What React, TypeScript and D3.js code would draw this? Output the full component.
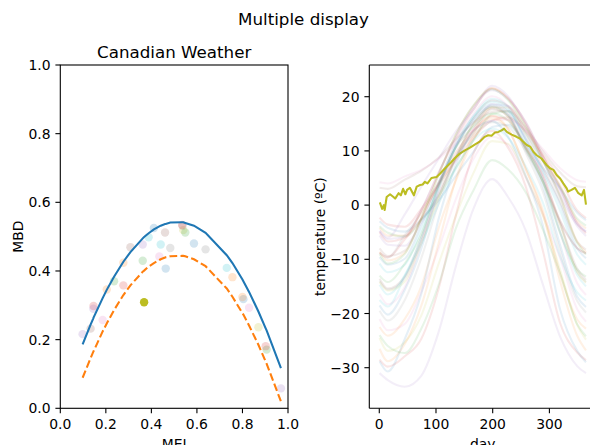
import React from "react";
import * as d3 from "d3";

// ---------------- DATA ----------------
const stations = [
  "St. Johns", "Halifax", "Sydney", "Yarmouth", "Charlottetown", "Fredericton",
  "Scheffervll", "Arvida", "Bagottville", "Quebec", "Sherbrooke", "Montreal",
  "Ottawa", "Toronto", "London", "Thunder Bay", "Winnipeg", "The Pas",
  "Churchill", "Regina", "Pr. Albert", "Uranium Cty", "Edmonton", "Calgary",
  "Kamloops", "Vancouver", "Victoria", "Pr. George", "Pr. Rupert", "Whitehorse",
  "Dawson", "Yellowknife", "Iqaluit", "Inuvik", "Resolute",
];

// days at which each station's temperature is sampled (start, mid-months, end)
const curveDays = [0.5, 15, 45, 74, 105, 135, 166, 199, 227, 258, 288, 319, 349, 364.5];

const stationTemps: number[][] = [
  [-3.0, -4.2, -4.9, -2.6, 0.9, 5.4, 9.8, 14.4, 14.8, 11.3, 6.9, 3.1, -1.4, -2.8],
  [-4.2, -5.6, -5.6, -1.4, 3.6, 8.8, 13.9, 18.0, 18.0, 14.0, 8.9, 3.6, -2.9, -4.3],
  [-3.9, -5.1, -5.8, -2.8, 1.7, 6.9, 12.0, 16.8, 17.3, 13.3, 8.2, 3.4, -2.5, -3.8],
  [-2.3, -3.6, -4.0, -0.7, 3.9, 8.3, 12.4, 15.6, 16.2, 13.6, 9.4, 4.8, -1.0, -2.4],
  [-5.6, -7.3, -7.5, -3.2, 2.0, 8.3, 14.1, 18.6, 18.3, 13.8, 8.2, 2.5, -3.9, -5.7],
  [-8.0, -9.4, -8.4, -2.6, 4.3, 10.7, 16.0, 19.3, 18.3, 13.1, 7.0, 0.6, -6.8, -8.2],
  [-21.0, -23.1, -21.9, -16.0, -7.9, 1.1, 8.5, 12.6, 11.1, 5.1, -1.6, -9.8, -19.2, -21.5],
  [-14.0, -15.6, -13.5, -6.6, 1.5, 8.8, 14.9, 17.9, 16.3, 10.7, 4.4, -3.4, -12.3, -14.2],
  [-14.2, -15.8, -14.1, -7.1, 1.4, 8.9, 14.9, 18.1, 16.3, 10.4, 4.4, -3.7, -12.4, -14.3],
  [-10.8, -12.4, -11.0, -4.6, 3.3, 10.8, 16.3, 19.1, 17.6, 12.4, 6.1, -1.0, -9.1, -11.0],
  [-9.6, -11.0, -9.9, -3.7, 3.9, 10.7, 15.9, 18.6, 17.3, 12.2, 6.5, 0.1, -8.0, -9.8],
  [-8.6, -10.2, -8.8, -2.4, 5.7, 13.0, 18.3, 21.6, 19.6, 14.8, 8.6, 1.7, -6.7, -8.7],
  [-9.0, -10.8, -9.0, -2.5, 5.7, 13.0, 18.4, 21.4, 19.4, 14.5, 8.3, 1.5, -7.0, -9.1],
  [-5.0, -6.7, -6.0, -1.0, 6.0, 12.3, 17.6, 21.5, 19.8, 15.3, 9.1, 3.2, -3.4, -5.2],
  [-4.8, -6.3, -5.7, -0.9, 6.1, 12.6, 18.1, 21.2, 19.6, 15.4, 9.2, 2.9, -3.3, -4.9],
  [-13.6, -15.4, -13.2, -6.0, 2.3, 8.7, 13.4, 17.7, 16.6, 11.0, 5.2, -3.3, -11.7, -13.8],
  [-16.4, -18.3, -15.1, -7.0, 3.7, 11.4, 16.8, 20.1, 18.2, 12.2, 5.2, -5.0, -14.4, -16.6],
  [-19.5, -21.3, -17.5, -9.8, 0.5, 8.7, 15.1, 18.3, 16.9, 9.7, 2.6, -8.5, -17.7, -19.8],
  [-24.5, -26.9, -25.3, -20.4, -10.7, -2.0, 5.9, 11.8, 11.3, 5.3, -1.8, -12.0, -22.1, -24.8],
  [-14.7, -16.5, -12.9, -6.0, 4.1, 11.4, 16.4, 19.6, 18.1, 11.6, 4.8, -5.0, -12.9, -15.0],
  [-18.5, -20.2, -15.6, -8.1, 3.1, 10.9, 15.5, 18.2, 16.6, 10.4, 3.6, -7.4, -16.9, -18.8],
  [-22.5, -24.1, -21.0, -15.0, -4.1, 4.5, 12.1, 16.0, 14.0, 6.8, -0.8, -12.7, -21.1, -22.8],
  [-13.0, -14.2, -10.8, -5.4, 3.7, 10.6, 14.5, 16.9, 15.6, 10.6, 4.5, -5.2, -11.9, -13.2],
  [-8.8, -9.6, -6.3, -2.5, 4.1, 9.7, 13.7, 16.4, 15.7, 10.6, 5.7, -3.0, -7.9, -8.9],
  [-4.7, -6.0, -1.7, 3.4, 8.6, 13.6, 17.6, 22.0, 20.1, 14.9, 8.4, 1.6, -3.6, -4.9],
  [3.2, 3.0, 4.7, 6.3, 8.8, 12.1, 15.2, 17.2, 17.4, 14.3, 10.0, 6.0, 3.5, 3.3],
  [4.2, 4.0, 5.3, 6.5, 8.6, 11.3, 13.9, 15.6, 15.8, 13.8, 10.4, 6.8, 4.6, 4.3],
  [-8.8, -9.7, -5.5, -1.5, 4.3, 9.1, 12.9, 15.3, 14.5, 10.0, 4.5, -2.9, -8.0, -8.9],
  [0.5, 0.8, 2.2, 3.4, 5.4, 8.3, 10.9, 12.8, 13.3, 11.2, 7.9, 3.7, 1.6, 0.1],
  [-17.5, -18.7, -13.1, -7.2, 0.3, 6.7, 11.9, 14.1, 12.5, 7.2, 0.6, -9.5, -16.1, -17.6],
  [-28.8, -30.7, -24.7, -16.4, -2.4, 7.4, 13.6, 15.5, 12.6, 5.5, -3.6, -19.3, -26.9, -29.0],
  [-26.5, -28.8, -25.6, -18.6, -6.9, 4.8, 13.0, 16.5, 14.1, 6.7, -1.4, -14.1, -24.1, -26.8],
  [-24.0, -26.0, -27.3, -22.8, -14.6, -4.3, 2.7, 8.3, 6.6, 2.4, -4.4, -12.7, -22.0, -24.2],
  [-28.5, -29.8, -27.9, -24.7, -15.3, -1.9, 9.5, 13.7, 10.6, 3.5, -8.2, -21.8, -27.2, -28.6],
  [-31.0, -32.3, -33.5, -31.5, -23.3, -11.3, -0.7, 4.8, 1.5, -4.6, -14.5, -24.3, -29.7, -31.0],
];

// highlighted station (Pr. Rupert), read more finely from the picture
const highlighted = 28;
const rupertDays = [
  1, 5, 8, 9.5, 13, 19, 25, 28, 34, 38, 42, 46, 49, 54, 61, 66, 72, 76.5, 80.6, 85,
  92, 101, 107, 116, 125, 133.5, 142, 151, 160, 169, 177, 186, 192, 198, 204, 210,
  216, 220, 225, 233.5, 242, 248, 254, 260, 266, 272, 277.6, 286, 295, 301, 307,
  313, 319, 324.5, 330.5, 333, 339, 345, 351, 357, 361, 364.5,
];
const rupertTemps = [
  0.5, -0.7, 0.0, -0.9, 1.5, 2.0, 1.5, 1.2, 2.2, 1.8, 3.0, 2.0, 2.8, 3.2, 1.8, 3.4,
  3.7, 3.8, 4.3, 4.0, 5.0, 5.2, 5.8, 6.8, 7.7, 8.7, 9.5, 10.1, 10.6, 11.2, 11.7,
  12.6, 12.9, 12.8, 13.4, 13.5, 13.8, 14.1, 13.5, 13.0, 12.6, 12.3, 11.7, 11.1,
  10.8, 9.8, 9.2, 8.6, 7.4, 6.8, 6.5, 5.5, 4.9, 4.0, 3.1, 2.5, 2.8, 3.2, 2.2, 1.8,
  2.8, 0.1,
];

// outliergram: MEI and MBD per station (same order as stations)
const meiValues = [
  0.463, 0.204, 0.236, 0.277, 0.362, 0.308, 0.829, 0.483, 0.540, 0.388, 0.411, 0.277,
  0.362, 0.146, 0.145, 0.460, 0.435, 0.537, 0.870, 0.441, 0.587, 0.756, 0.549, 0.535,
  0.098, 0.133, 0.186, 0.638, 0.368, 0.731, 0.804, 0.800, 0.906, 0.902, 0.969,
];
const mbdValues = [
  0.407, 0.346, 0.370, 0.358, 0.477, 0.469, 0.293, 0.467, 0.519, 0.498, 0.525, 0.424,
  0.430, 0.298, 0.290, 0.512, 0.442, 0.532, 0.236, 0.477, 0.480, 0.382, 0.512, 0.534,
  0.216, 0.232, 0.257, 0.463, 0.309, 0.409, 0.318, 0.324, 0.171, 0.181, 0.058,
];

// parabola (solid) and shifted parabola (dashed), at sorted MEI values
const parabolaMei = [
  0.098, 0.133, 0.145, 0.146, 0.186, 0.204, 0.236, 0.277, 0.277, 0.308, 0.362, 0.362,
  0.368, 0.388, 0.411, 0.435, 0.441, 0.460, 0.463, 0.483, 0.535, 0.537, 0.540, 0.549,
  0.587, 0.638, 0.731, 0.756, 0.800, 0.804, 0.829, 0.870, 0.902, 0.906, 0.969,
];
const parabolaMbd = [
  0.186, 0.244, 0.262, 0.264, 0.321, 0.345, 0.383, 0.427, 0.427, 0.455, 0.495, 0.495,
  0.499, 0.510, 0.521, 0.530, 0.532, 0.537, 0.537, 0.541, 0.542, 0.542, 0.542, 0.540,
  0.532, 0.511, 0.446, 0.423, 0.375, 0.370, 0.339, 0.282, 0.233, 0.227, 0.117,
];
const shiftedMbd = [
  0.089, 0.146, 0.165, 0.166, 0.224, 0.247, 0.286, 0.330, 0.330, 0.358, 0.398, 0.398,
  0.401, 0.413, 0.423, 0.432, 0.434, 0.439, 0.440, 0.443, 0.444, 0.444, 0.444, 0.443,
  0.434, 0.414, 0.349, 0.325, 0.277, 0.273, 0.241, 0.185, 0.136, 0.130, 0.020,
];

const unitTicks = [0, 0.2, 0.4, 0.6, 0.8, 1.0];
const dayTicks = [0, 100, 200, 300];
const tempTicks = [-30, -20, -10, 0, 10, 20];

const palette = d3.schemeCategory10;

// ---------------- LAYOUT ----------------
const W = 590;
const H = 445;
const TOP = 65;
const BOTTOM = 408.3;
const L = { x0: 60.3, x1: 288 };
const R = { x0: 369.3, x1: 596.3 };
const FONT = "'DejaVu Sans', sans-serif";
const TICK = 4.9;
const PAD = 4.9;
const minus = (s: string) => s.replace("-", "\u2212");

export default function App() {
  const xL = d3.scaleLinear().domain([0, 1]).range([L.x0, L.x1]);
  const yL = d3.scaleLinear().domain([0, 1]).range([BOTTOM, TOP]);
  const xR = d3.scaleLinear().domain([-17.6, 382.7]).range([R.x0, R.x1]);
  const yR = d3.scaleLinear().domain([-37.49, 25.85]).range([BOTTOM, TOP]);

  const lineL = d3.line<[number, number]>().x((d) => xL(d[0])).y((d) => yL(d[1]));
  const lineR = d3
    .line<[number, number]>()
    .x((d) => xR(d[0]))
    .y((d) => yR(d[1]))
    .curve(d3.curveMonotoneX);
  const lineRaw = d3.line<[number, number]>().x((d) => xR(d[0])).y((d) => yR(d[1]));

  const solidPts = parabolaMei.map((m, i) => [m, parabolaMbd[i]] as [number, number]);
  const dashPts = parabolaMei.map((m, i) => [m, shiftedMbd[i]] as [number, number]);

  const fmt = d3.format(".1f");

  return (
    <svg
      width={W}
      height={H}
      style={{ position: "absolute", left: 0, top: 0, background: "#fff" }}
      fontFamily={FONT}
    >
      <rect x={0} y={0} width={W} height={H} fill="#fff" />
      <defs>
        <clipPath id="clipL">
          <rect x={L.x0} y={TOP} width={L.x1 - L.x0} height={BOTTOM - TOP} />
        </clipPath>
        <clipPath id="clipR">
          <rect x={R.x0} y={TOP} width={R.x1 - R.x0} height={BOTTOM - TOP} />
        </clipPath>
      </defs>

      <text x={303.5} y={25} fontSize={16.7} textAnchor="middle" fill="#000">
        Multiple display
      </text>

      {/* ---------- Left: outliergram ---------- */}
      <text x={(L.x0 + L.x1) / 2} y={58} fontSize={16.7} textAnchor="middle" fill="#000">
        Canadian Weather
      </text>
      <g clipPath="url(#clipL)">
        {meiValues.map((m, i) =>
          i === highlighted ? null : (
            <circle
              key={i}
              cx={xL(m)}
              cy={yL(mbdValues[i])}
              r={4.2}
              fill={palette[i % 10]}
              fillOpacity={0.2}
            />
          )
        )}
        <path d={lineL(solidPts) || ""} fill="none" stroke="#1f77b4" strokeWidth={2.08} />
        <path
          d={lineL(dashPts) || ""}
          fill="none"
          stroke="#ff7f0e"
          strokeWidth={2.08}
          strokeDasharray="7.7,3.3"
        />
        <circle
          cx={xL(meiValues[highlighted])}
          cy={yL(mbdValues[highlighted])}
          r={4.2}
          fill={palette[highlighted % 10]}
        />
      </g>
      <rect
        x={L.x0}
        y={TOP}
        width={L.x1 - L.x0}
        height={BOTTOM - TOP}
        fill="none"
        stroke="#000"
        strokeWidth={1.1}
      />
      {unitTicks.map((t) => (
        <g key={"lx" + t}>
          <line x1={xL(t)} x2={xL(t)} y1={BOTTOM} y2={BOTTOM + TICK} stroke="#000" strokeWidth={1.1} />
          <text x={xL(t)} y={BOTTOM + TICK + PAD + 10.5} fontSize={13.9} textAnchor="middle" fill="#000">
            {fmt(t)}
          </text>
        </g>
      ))}
      {unitTicks.map((t) => (
        <g key={"ly" + t}>
          <line x1={L.x0 - TICK} x2={L.x0} y1={yL(t)} y2={yL(t)} stroke="#000" strokeWidth={1.1} />
          <text x={L.x0 - TICK - PAD} y={yL(t) + 5} fontSize={13.9} textAnchor="end" fill="#000">
            {fmt(t)}
          </text>
        </g>
      ))}
      <text x={(L.x0 + L.x1) / 2} y={449} fontSize={13.9} textAnchor="middle" fill="#000">
        MEI
      </text>
      <text
        transform={`translate(23,${(TOP + BOTTOM) / 2}) rotate(-90)`}
        fontSize={13.9}
        textAnchor="middle"
        fill="#000"
      >
        MBD
      </text>

      {/* ---------- Right: curves ---------- */}
      <g clipPath="url(#clipR)">
        {stationTemps.map((temps, i) =>
          i === highlighted ? (
            <path
              key={i}
              d={lineRaw(rupertDays.map((d, j) => [d, rupertTemps[j]] as [number, number])) || ""}
              fill="none"
              stroke={palette[i % 10]}
              strokeWidth={2.08}
              strokeLinejoin="round"
            />
          ) : (
            <path
              key={i}
              d={lineR(curveDays.map((d, j) => [d, temps[j]] as [number, number])) || ""}
              fill="none"
              stroke={palette[i % 10]}
              strokeOpacity={0.11}
              strokeWidth={2.08}
            />
          )
        )}
      </g>
      <line x1={R.x0} x2={R.x0} y1={TOP} y2={BOTTOM} stroke="#000" strokeWidth={1.1} />
      <line x1={R.x0} x2={R.x1} y1={TOP} y2={TOP} stroke="#000" strokeWidth={1.1} />
      <line x1={R.x0} x2={R.x1} y1={BOTTOM} y2={BOTTOM} stroke="#000" strokeWidth={1.1} />
      {dayTicks.map((t) => (
        <g key={"rx" + t}>
          <line x1={xR(t)} x2={xR(t)} y1={BOTTOM} y2={BOTTOM + TICK} stroke="#000" strokeWidth={1.1} />
          <text x={xR(t)} y={BOTTOM + TICK + PAD + 10.5} fontSize={13.9} textAnchor="middle" fill="#000">
            {t}
          </text>
        </g>
      ))}
      {tempTicks.map((t) => (
        <g key={"ry" + t}>
          <line x1={R.x0 - TICK} x2={R.x0} y1={yR(t)} y2={yR(t)} stroke="#000" strokeWidth={1.1} />
          <text x={R.x0 - TICK - PAD} y={yR(t) + 5} fontSize={13.9} textAnchor="end" fill="#000">
            {minus(String(t))}
          </text>
        </g>
      ))}
      <text x={(R.x0 + R.x1) / 2} y={449} fontSize={13.9} textAnchor="middle" fill="#000">
        day
      </text>
      <text
        transform={`translate(325,${(TOP + BOTTOM) / 2}) rotate(-90)`}
        fontSize={13.9}
        textAnchor="middle"
        fill="#000"
      >
        temperature (ºC)
      </text>
    </svg>
  );
}
